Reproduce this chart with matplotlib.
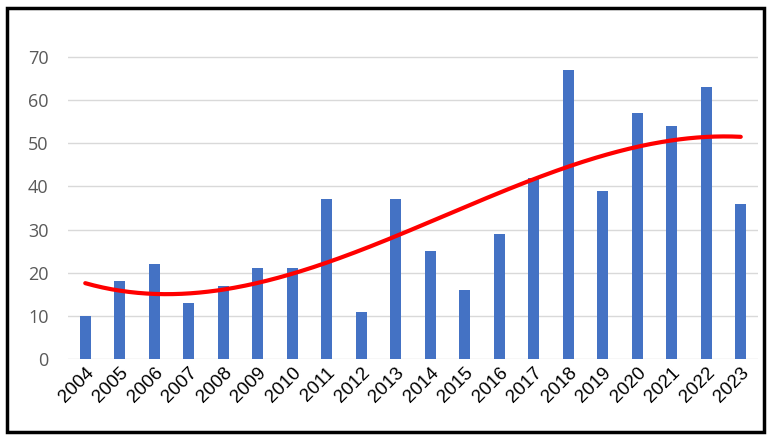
import numpy as np
import matplotlib
matplotlib.use("Agg")
import matplotlib.pyplot as plt
from matplotlib.patches import Rectangle

years = [str(y) for y in range(2004, 2024)]
counts = [10, 18, 22, 13, 17, 21, 21, 37, 11, 37, 25, 16, 29, 42, 67, 39, 57, 54, 63, 36]
yticks = [0, 10, 20, 30, 40, 50, 60, 70]

W, H = 771, 440
fig = plt.figure(figsize=(W / 100, H / 100), dpi=100)
ax = fig.add_axes([68 / W, (H - 359) / H, (758 - 68) / W, (359 - 30) / H])

x = np.arange(len(years))
ax.bar(x, counts, width=0.33, color="#4472C4", zorder=2)

# polynomial (order 3) trendline fitted to the data
coef = np.polyfit(x + 1, counts, 3)
xs = np.linspace(0, len(years) - 1, 300)
ax.plot(xs, np.polyval(coef, xs + 1), color="#FF0000", lw=3, zorder=3, solid_capstyle="round")

ax.set_xlim(-0.5, len(years) - 0.5)
ax.set_ylim(0, 70 * (359 - 30) / (359 - 57))
ax.set_yticks(yticks)
ax.yaxis.grid(True, color="#D9D9D9", lw=1, zorder=0)
for s in ax.spines.values():
    s.set_visible(False)
ax.tick_params(axis="both", length=0)
ax.tick_params(axis="y", labelcolor="#595959", labelsize=13, pad=14)
ax.set_yticklabels([str(t) for t in yticks], family="Open Sans")
ax.set_xticks(x)
ax.set_xticklabels(years, rotation=45, ha="right", rotation_mode="anchor",
                   family="Liberation Sans", fontsize=13.5, color="black")
ax.tick_params(axis="x", pad=4)

fig.patches.append(Rectangle((7 / W, 8 / H), (764 - 7) / W, (432 - 8) / H,
                             transform=fig.transFigure, fill=False,
                             edgecolor="black", lw=2.5))
fig.savefig("out.png", dpi=100)
